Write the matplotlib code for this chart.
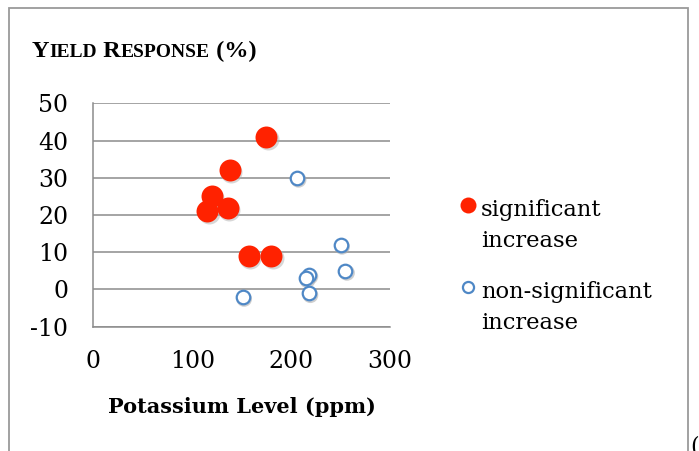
import matplotlib
matplotlib.use("Agg")
import matplotlib.pyplot as plt
from matplotlib.patches import Rectangle
from matplotlib.lines import Line2D
from matplotlib.ticker import FuncFormatter
import matplotlib.transforms as mtransforms

# ---- data ----
sig_x = [175, 138, 120, 136, 115, 157, 180]
sig_y = [41, 32, 25, 22, 21, 9, 9]
non_x = [206, 250, 255, 218, 215, 218, 151]
non_y = [30, 12, 5, 4, 3, -1, -2]
x_ticks = [0, 100, 200, 300]
y_ticks = [-10, 0, 10, 20, 30, 40, 50]
labels = ["significant\nincrease", "non-significant\nincrease"]
title_parts = [("Y", 1.0), ("IELD", 0.8), (" R", 1.0), ("ESPONSE", 0.8), (" (%)", 1.0)]
xlabel = "Potassium Level (ppm)"

W, H = 699, 451
fig = plt.figure(figsize=(W / 100, H / 100), dpi=100)
SERIF = ["DejaVu Serif"]

def fx(px):
    return px / W

def fy(py):
    return 1 - py / H

# outer border
fig.patches.append(Rectangle((fx(9), fy(470)), fx(688) - fx(9), fy(8) - fy(470),
                             transform=fig.transFigure, fill=False,
                             edgecolor="#9a9a9a", linewidth=1.3))

ax = fig.add_axes([fx(93.3), fy(326.7), fx(390) - fx(93.3), fy(103.3) - fy(326.7)])
ax.set_xlim(0, 300)
ax.set_ylim(-10, 50)
ax.set_xticks(x_ticks)
ax.set_yticks(y_ticks)
fmt = FuncFormatter(lambda v, p: "%d" % v)
ax.xaxis.set_major_formatter(fmt)
ax.yaxis.set_major_formatter(fmt)
ax.tick_params(length=0, labelsize=17)
ax.tick_params(axis="y", pad=18)
ax.tick_params(axis="x", pad=17)
for lab in ax.get_xticklabels() + ax.get_yticklabels():
    lab.set_family(SERIF)
ax.grid(axis="y", color="#8c8c8c", linewidth=1.1)
ax.set_axisbelow(True)
for s in ["top", "right"]:
    ax.spines[s].set_visible(False)
for s in ["left", "bottom"]:
    ax.spines[s].set_color("#8c8c8c")
    ax.spines[s].set_linewidth(1.1)

shadow = mtransforms.offset_copy(ax.transData, fig=fig, x=1.5, y=-2, units="dots")
ax.scatter(sig_x, sig_y, s=250, color="#b0b0b0", alpha=0.5, transform=shadow,
           linewidths=0, zorder=2)
ax.scatter(non_x, non_y, s=95, facecolor="none", edgecolor="#b0b0b0", alpha=0.6,
           linewidths=1.6, transform=shadow, zorder=2)
ax.scatter(sig_x, sig_y, s=250, color="#ff2200", linewidths=0, zorder=3)
ax.scatter(non_x, non_y, s=95, facecolor="white", edgecolor="#4f88c6",
           linewidths=1.6, zorder=3)

ax.set_xlabel(xlabel, fontsize=15, fontweight="bold", family=SERIF, labelpad=17)

# legend (first line aligned with marker, as in the reference)
leg_styles = [dict(marker="o", markersize=11.5, markerfacecolor="#ff2200",
                   markeredgecolor="#ff2200", markeredgewidth=0),
              dict(marker="o", markersize=8, markerfacecolor="white",
                   markeredgecolor="#4f88c6", markeredgewidth=1.6)]
marker_rows = [205, 287]
last_baselines = [247, 329]
for lab, st, mrow, trow in zip(labels, leg_styles, marker_rows, last_baselines):
    fig.add_artist(Line2D([fx(467.5)], [fy(mrow)], transform=fig.transFigure,
                          linestyle="none", **st))
    fig.text(fx(481), fy(trow), lab, fontsize=16.3, family=SERIF, va="baseline",
             ha="left", linespacing=1.55)

# small-caps title
fig.canvas.draw()
r = fig.canvas.get_renderer()
x = fx(32)
for txt, scale in title_parts:
    t = fig.text(x, fy(57), txt, fontsize=17.5 * scale, fontweight="bold",
                 family=["Liberation Serif"], va="baseline", ha="left")
    bb = t.get_window_extent(r)
    x = bb.x1 / W

fig.text(fx(690), fy(452), "(", fontsize=16, family=SERIF, va="baseline", ha="left")

fig.savefig("out.png", dpi=100)
